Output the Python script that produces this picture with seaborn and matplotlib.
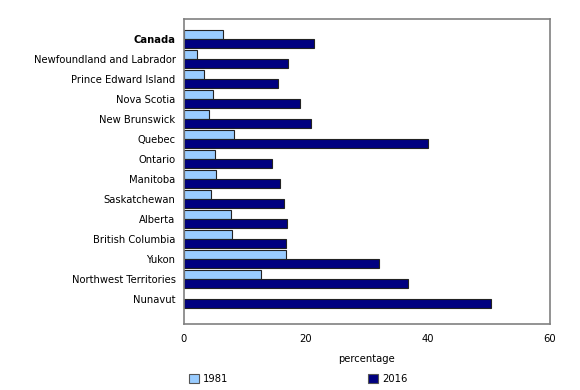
import matplotlib
matplotlib.use("Agg")
import matplotlib.pyplot as plt
import seaborn as sns
import pandas as pd
import numpy as np

regions = ["Canada", "Newfoundland and Labrador", "Prince Edward Island",
           "Nova Scotia", "New Brunswick", "Quebec", "Ontario", "Manitoba",
           "Saskatchewan", "Alberta", "British Columbia", "Yukon",
           "Northwest Territories", "Nunavut"]
pct_1981 = [6.4, 2.2, 3.3, 4.8, 4.2, 8.3, 5.1, 5.2, 4.4, 7.8, 7.9, 16.7, 12.7, np.nan]
pct_2016 = [21.4, 17.1, 15.4, 19.1, 20.9, 40.1, 14.5, 15.7, 16.4, 16.9, 16.7, 32.0, 36.7, 50.4]
years = ["1981", "2016"]
colors = ["#99CCFF", "#000080"]

df = pd.DataFrame({"region": regions * 2,
                   "year": [years[0]] * len(regions) + [years[1]] * len(regions),
                   "value": pct_1981 + pct_2016}).dropna()

sns.set_style("white")
plt.rcParams["font.family"] = ["DejaVu Sans"]
plt.rcParams["font.size"] = 7.2
plt.rcParams["text.color"] = "black"
plt.rcParams["xtick.labelcolor"] = "black"
plt.rcParams["ytick.labelcolor"] = "black"
plt.rcParams["axes.labelcolor"] = "black"

fig = plt.figure(figsize=(5.8, 3.9), dpi=100)
ax = fig.add_axes([0.317, 0.169, 0.631, 0.782])

sns.barplot(data=df, y="region", x="value", hue="year", order=regions,
            hue_order=years, palette=colors, saturation=1, orient="h", width=0.88,
            edgecolor="#222222", linewidth=0.8, errorbar=None, ax=ax,
            legend=False)

ax.set_xlim(0, 60)
ax.set_ylim(14.25, -1.0)
ax.set_xticks([0, 20, 40, 60])
ax.tick_params(axis="x", direction="in", length=4, color="#666666",
               labelsize=7.2, pad=7)
ax.tick_params(axis="y", length=0, labelsize=7.2, pad=6)
ax.set_xlabel("percentage", fontsize=7.2, labelpad=7)
ax.set_ylabel("")
for s in ax.spines.values():
    s.set_color("#808080")
    s.set_linewidth(1.2)
for lab in ax.get_yticklabels():
    if lab.get_text() == "Canada":
        lab.set_fontweight("bold")

handles = [plt.Rectangle((0, 0), 1, 1, facecolor=c, edgecolor="#555555", linewidth=0.8)
           for c in colors]
fig.legend(handles, years, loc="lower left", bbox_to_anchor=(0.31, -0.008),
           ncol=2, frameon=False, fontsize=7.2, handlelength=1.0, handleheight=1.0,
           handletextpad=0.4, columnspacing=14.0)

fig.savefig("out.png", dpi=100)
